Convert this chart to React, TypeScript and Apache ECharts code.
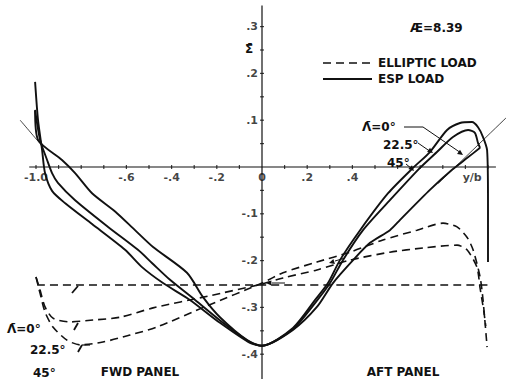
import React, { useEffect, useRef } from "react";
import * as echarts from "echarts";

// ---- data ----
const espL0: number[][] = [[-1.004,0.12],[-0.991,0.058],[-0.885,0.015],[-0.827,-0.013],[-0.752,-0.056],[-0.65,-0.095],[-0.562,-0.135],[-0.482,-0.171],[-0.332,-0.226],[-0.261,-0.278],[-0.186,-0.321],[-0.066,-0.37],[0,-0.382],[0.137,-0.348],[0.243,-0.299],[0.314,-0.248],[0.403,-0.199],[0.478,-0.162],[0.566,-0.135],[0.611,-0.113],[0.743,-0.049],[0.841,-0.006],[0.907,0.019],[0.965,0.041]];
const espL22: number[][] = [[-1.004,0.122],[-0.982,0.058],[-0.951,0.015],[-0.929,-0.013],[-0.903,-0.034],[-0.827,-0.071],[-0.681,-0.128],[-0.549,-0.177],[-0.487,-0.205],[-0.407,-0.241],[-0.296,-0.284],[-0.177,-0.331],[-0.053,-0.374],[0,-0.382],[0.137,-0.346],[0.239,-0.288],[0.301,-0.248],[0.358,-0.199],[0.447,-0.135],[0.566,-0.071],[0.699,-0.002],[0.774,0.032],[0.845,0.064],[0.912,0.079],[0.942,0.073],[0.956,0.051],[0.965,0.041]];
const espL45: number[][] = [[-1.004,0.182],[-0.991,0.1],[-0.973,0.036],[-0.96,-0.013],[-0.929,-0.051],[-0.872,-0.077],[-0.752,-0.122],[-0.606,-0.177],[-0.531,-0.214],[-0.438,-0.248],[-0.319,-0.284],[-0.186,-0.333],[-0.053,-0.376],[0,-0.382],[0.137,-0.344],[0.235,-0.284],[0.292,-0.248],[0.345,-0.199],[0.434,-0.135],[0.558,-0.056],[0.668,-0.002],[0.743,0.032],[0.819,0.079],[0.876,0.094],[0.929,0.096],[0.956,0.085],[0.978,0.064],[0.996,0.036],[1.0,-0.071],[1.0,-0.203]];
const thinLeft: number[][] = [[-1.07,0.1],[-0.973,0.045]];
const thinRight: number[][] = [[0.78,-0.035],[1.08,0.105]];

const ellL0: number[][] = [[-0.995,-0.252],[1.01,-0.252]];
const ellL22: number[][] = [[-1.0,-0.235],[-0.982,-0.263],[-0.96,-0.299],[-0.925,-0.323],[-0.85,-0.331],[-0.748,-0.327],[-0.628,-0.321],[-0.482,-0.301],[-0.24,-0.276],[0,-0.25],[0.093,-0.237],[0.243,-0.22],[0.389,-0.199],[0.566,-0.182],[0.712,-0.173],[0.863,-0.167],[0.907,-0.177],[0.951,-0.214],[0.965,-0.259],[0.982,-0.31],[0.99,-0.34]];
const ellL45: number[][] = [[-1.0,-0.235],[-0.982,-0.27],[-0.96,-0.31],[-0.925,-0.342],[-0.863,-0.37],[-0.805,-0.38],[-0.704,-0.374],[-0.584,-0.359],[-0.465,-0.342],[-0.24,-0.296],[0,-0.248],[0.093,-0.226],[0.243,-0.203],[0.389,-0.182],[0.535,-0.156],[0.686,-0.135],[0.801,-0.12],[0.863,-0.128],[0.907,-0.15],[0.934,-0.177],[0.965,-0.235],[0.978,-0.284],[0.996,-0.385]];

const xTickValues = [-1.0, -0.6, -0.4, -0.2, 0, 0.2, 0.4, 0.93];
const xTickLabels = ["-1.0", "-.6", "-.4", "-.2", "0", ".2", ".4", "y/b"];
const yTickValues = [0.3, 0.2, 0.1, -0.1, -0.2, -0.3, -0.4];
const yTickLabels = [".3", ".2", ".1", "-.1", "-.2", "-.3", "-.4"];
const xMinorTicks = [-1.0,-0.9,-0.8,-0.7,-0.6,-0.5,-0.4,-0.3,-0.2,-0.1,0.1,0.2,0.3,0.4,0.5,0.6,0.7,0.8,0.9,1.0];
const yMinorTicks = [0.3,0.25,0.2,0.15,0.1,0.05,-0.05,-0.1,-0.15,-0.2,-0.25,-0.3,-0.35,-0.4];

// ---- layout ----
const W = 506, H = 379;
const X0 = 262, SX = 226, Y0 = 167, SY = 468;
const INK = "#111";
const FONT = "DejaVu Sans";

export default function App() {
  const ref = useRef<HTMLDivElement>(null);
  useEffect(() => {
    if (!ref.current) return;
    const chart = echarts.init(ref.current, null, { renderer: "svg" });
    const solid = (name: string, data: number[][], w = 1.9) => ({
      name, type: "line", data, symbol: "none", smooth: 0.25,
      lineStyle: { color: INK, width: w }, silent: true, z: 3,
    });
    const dashed = (name: string, data: number[][]) => ({
      name, type: "line", data, symbol: "none", smooth: 0.25,
      lineStyle: { color: INK, width: 1.6, type: [8, 5] }, silent: true, z: 3,
    });
    const txt = (x: number, y: number, text: string, align = "left", size = 12) => ({
      type: "text", x, y,
      style: { text, fill: INK, font: `bold ${size}px "${FONT}"`, textAlign: align, textVerticalAlign: "middle" },
    });
    const ln = (x1: number, y1: number, x2: number, y2: number, w = 1.2, dash?: number[]) => ({
      type: "line", shape: { x1, y1, x2, y2 },
      style: { stroke: INK, lineWidth: w, lineDash: dash },
    });
    const arrow = (x: number, y: number, ang: number) => {
      const a = 0.45, L = 6;
      return {
        type: "polygon",
        shape: { points: [[x, y], [x - L * Math.cos(ang - a), y - L * Math.sin(ang - a)], [x - L * Math.cos(ang + a), y - L * Math.sin(ang + a)]] },
        style: { fill: INK },
      };
    };
    chart.setOption({
      animation: false,
      backgroundColor: "#fff",
      grid: { left: 0, right: 0, top: 0, bottom: 0 },
      xAxis: { type: "value", min: -X0 / SX, max: (W - X0) / SX, show: false },
      yAxis: { type: "value", min: (Y0 - H) / SY, max: Y0 / SY, show: false },
      series: [
        { type: "line", data: [[-1.03, 0], [1.035, 0]], symbol: "none", lineStyle: { color: INK, width: 1.1 }, silent: true },
        { type: "line", data: [[0, (Y0 - H) / SY], [0, 0.345]], symbol: "none", lineStyle: { color: INK, width: 1.2 }, silent: true },
        { type: "scatter", data: xMinorTicks.map((v) => [v, 0]), symbol: "rect", symbolSize: [1.2, 4], itemStyle: { color: INK }, silent: true },
        { type: "scatter", data: yMinorTicks.map((v) => [0, v]), symbol: "rect", symbolSize: [4, 1.2], itemStyle: { color: INK }, silent: true },
        {
          type: "scatter", symbolSize: 0, silent: true,
          data: xTickValues.map((v, i) => ({ value: [v, 0], label: { formatter: xTickLabels[i] } })),
          label: { show: true, position: "bottom", distance: 5, color: INK, fontFamily: FONT, fontWeight: "bold", fontSize: 11 },
        },
        {
          type: "scatter", symbolSize: 0, silent: true,
          data: yTickValues.map((v, i) => ({ value: [0, v], label: { formatter: yTickLabels[i] } })),
          label: { show: true, position: "left", distance: 4, color: INK, fontFamily: FONT, fontWeight: "bold", fontSize: 11 },
        },
        solid("ESP Λ=0°", espL0),
        solid("ESP Λ=22.5°", espL22),
        solid("ESP Λ=45°", espL45),
        solid("thin left", thinLeft, 0.8),
        solid("thin right", thinRight, 0.8),
        dashed("Elliptic Λ=0°", ellL0),
        dashed("Elliptic Λ=22.5°", ellL22),
        dashed("Elliptic Λ=45°", ellL45),
      ],
      graphic: [
        txt(410, 28, "Æ=8.39", "left", 12),
        ln(323, 63, 370, 63, 1.6, [8, 5]),
        txt(378, 63, "ELLIPTIC LOAD"),
        ln(323, 79, 372, 79, 1.9),
        txt(378, 79, "ESP LOAD"),
        txt(249, 49, "Σ̄", "center", 12),
        txt(362, 127, "Λ̄=0°"),
        txt(383, 145, "22.5°"),
        txt(387, 163, "45°"),
        { type: "polyline", shape: { points: [[404, 127], [423, 127], [461, 153]] }, style: { stroke: INK, lineWidth: 1, fill: "none" } },
        arrow(463, 155, Math.atan2(26, 38)),
        ln(418, 143, 431, 152, 1),
        arrow(433, 153, Math.atan2(9, 13)),
        ln(406, 164, 412, 169, 1),
        arrow(414, 171, Math.atan2(6, 6)),
        txt(7, 329, "Λ̄=0°"),
        txt(30, 350, "22.5°"),
        txt(33, 373, "45°"),
        ln(78, 286, 72, 293, 1.8),
        ln(78, 323, 74, 330, 1.8),
        ln(90, 345, 82, 345, 1.2),
        ln(82, 345, 78, 352, 1.8),
        txt(140, 372, "FWD PANEL", "center", 12),
        txt(403, 372, "AFT PANEL", "center", 12),
        ln(285, 283, 272, 283, 1),
        arrow(266, 283, Math.PI),
        ln(345, 258, 335, 261, 1),
        arrow(329, 263, Math.PI - 0.3),
      ],
    });
    return () => chart.dispose();
  }, []);
  return <div ref={ref} style={{ position: "fixed", left: 0, top: 0, width: W, height: H, background: "#fff" }} />;
}
